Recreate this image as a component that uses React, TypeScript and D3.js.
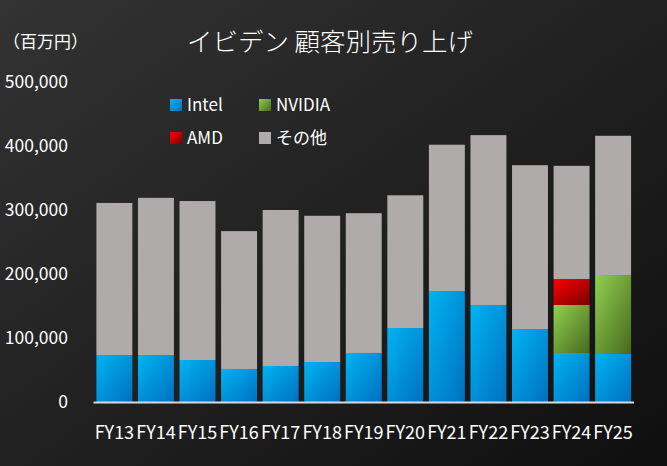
import React from "react";
import * as d3 from "d3";

const categories = ["FY13","FY14","FY15","FY16","FY17","FY18","FY19","FY20","FY21","FY22","FY23","FY24","FY25"];
const intel = [73400, 73400, 65600, 51600, 56300, 62500, 76600, 115600, 173400, 151600, 114000, 76600, 75000];
const nvidia = [0, 0, 0, 0, 0, 0, 0, 0, 0, 0, 0, 75000, 123400];
const amd = [0, 0, 0, 0, 0, 0, 0, 0, 0, 0, 0, 40600, 0];
const totals = [311000, 319000, 314000, 267000, 300000, 291000, 295000, 323000, 402000, 417000, 370000, 369000, 416000];
const other = totals.map((t, i) => t - intel[i] - nvidia[i] - amd[i]);
const yTicks = [0, 100000, 200000, 300000, 400000, 500000];
const seriesNames = ["Intel", "NVIDIA", "AMD", "その他"];

const W = 667, H = 466;
const FONT = "'Noto Sans CJK JP', 'Noto Sans', sans-serif";

export default function App() {
  const x = d3.scaleBand<string>().domain(categories).range([93.5, 634]).paddingInner(0.135).paddingOuter(0.07);
  const y = d3.scaleLinear().domain([0, 500000]).range([402, 82]);
  const fmt = d3.format(",");
  const data = categories.map((c, i) => ({ cat: c, Intel: intel[i], NVIDIA: nvidia[i], AMD: amd[i], "その他": other[i] }));
  const stack = d3.stack<any>().keys(seriesNames)(data);
  const fills: Record<string, string> = {
    Intel: "url(#gIntel)",
    NVIDIA: "url(#gNvidia)",
    AMD: "url(#gAmd)",
    "その他": "#afabab",
  };
  const legend = [
    { name: "Intel", x: 170, y: 105 },
    { name: "NVIDIA", x: 259, y: 105 },
    { name: "AMD", x: 170, y: 138 },
    { name: "その他", x: 259, y: 138 },
  ];
  return (
    <div style={{ position: "fixed", left: 0, top: 0 }}>
      <svg width={W} height={H} style={{ display: "block" }}>
        <defs>
          <linearGradient id="bg" x1="0" y1="0" x2="1" y2="1">
            <stop offset="0" stopColor="#333333" />
            <stop offset="1" stopColor="#0f0f0f" />
          </linearGradient>
          <linearGradient id="gIntel" x1="0" y1="0" x2="1" y2="1">
            <stop offset="0" stopColor="#00b4f2" />
            <stop offset="1" stopColor="#0070c0" />
          </linearGradient>
          <linearGradient id="gNvidia" x1="0" y1="0" x2="1" y2="1">
            <stop offset="0" stopColor="#92d050" />
            <stop offset="1" stopColor="#46691d" />
          </linearGradient>
          <linearGradient id="gAmd" x1="0" y1="0" x2="1" y2="1">
            <stop offset="0" stopColor="#ff0000" />
            <stop offset="1" stopColor="#7a0000" />
          </linearGradient>
        </defs>
        <rect x={0} y={0} width={W} height={H} fill="url(#bg)" />
        <text x={330} y={51} textAnchor="middle" fill="#ffffff" fontFamily={FONT} fontSize={25.5} fontWeight={300}>イビデン 顧客別売り上げ</text>
        <text x={3} y={48} fill="#ffffff" fontFamily={FONT} fontSize={17}>（百万円）</text>
        {yTicks.map((t) => (
          <text key={t} x={68} y={y(t)} dy="0.35em" textAnchor="end" fill="#ffffff" fontFamily={FONT} fontSize={17.5}>{fmt(t)}</text>
        ))}
        {stack.map((s) => (
          <g key={s.key}>
            {s.map((d, i) => {
              const h = y(d[0]) - y(d[1]);
              if (h <= 0) return null;
              return <rect key={i} x={x(categories[i])} y={y(d[1])} width={x.bandwidth()} height={h} fill={fills[s.key]} />;
            })}
          </g>
        ))}
        <line x1={93.5} x2={634} y1={402.5} y2={402.5} stroke="#d9d9d9" strokeWidth={2} />
        {categories.map((c) => (
          <text key={c} x={(x(c) as number) + x.bandwidth() / 2} y={439} textAnchor="middle" fill="#ffffff" fontFamily={FONT} fontSize={18}>{c}</text>
        ))}
        {legend.map((l) => (
          <g key={l.name}>
            <rect x={l.x} y={l.y - 6} width={12} height={12} fill={fills[l.name]} />
            <text x={l.x + 17} y={l.y} dy="0.35em" fill="#ffffff" fontFamily={FONT} fontSize={17}>{l.name}</text>
          </g>
        ))}
      </svg>
    </div>
  );
}
